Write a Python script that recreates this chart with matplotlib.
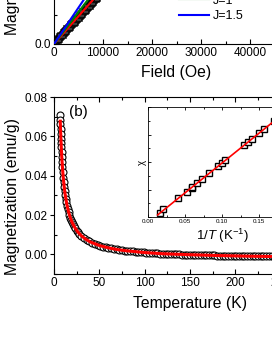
import numpy as np
import matplotlib
matplotlib.use('Agg')
import matplotlib.pyplot as plt
from matplotlib.ticker import MultipleLocator, FormatStrFormatter

plt.rcParams['font.family'] = ['Liberation Sans', 'DejaVu Sans']
plt.rcParams['mathtext.fontset'] = 'custom'
plt.rcParams['mathtext.rm'] = 'Liberation Sans'
plt.rcParams['mathtext.it'] = 'Liberation Sans:italic'

# panel (a): M(H) data and Brillouin fits
field = [0, 250, 500, 750, 1000, 1250, 1500, 1750, 2000, 2250, 2500, 2750, 3000,
         3250, 3500, 3750, 4000, 4250, 4500, 4750, 5000, 5250, 5500, 5750, 6000,
         6250, 6500, 6750, 7000, 7250, 7500, 7750, 8000, 8250, 8500, 8750, 9000,
         9250, 9500, 9750, 10000]
mag_h = [0, 0.0091, 0.0183, 0.0274, 0.0365, 0.0456, 0.0548, 0.0639, 0.0730, 0.0821,
         0.0913, 0.1004, 0.1095, 0.1186, 0.1278, 0.1369, 0.1460, 0.1551, 0.1643,
         0.1734, 0.1825, 0.1916, 0.2008, 0.2099, 0.2190, 0.2281, 0.2373, 0.2464,
         0.2555, 0.2646, 0.2738, 0.2829, 0.2920, 0.3011, 0.3103, 0.3194, 0.3285,
         0.3376, 0.3468, 0.3559, 0.3650]
fit_field = [0, 2500, 5000, 7500, 10000]
fit_j05 = [0, 0.0958, 0.1915, 0.287, 0.383]
fit_j1 = [0, 0.110, 0.2205, 0.331, 0.441]
fit_j15 = [0, 0.1255, 0.251, 0.3765, 0.502]

# panel (b): M(T)
temp = [6.7, 6.85, 7.0, 7.2, 7.4, 7.6, 7.8, 8.0, 8.3, 8.6, 8.9, 9.3, 9.7, 10.2,
        10.7, 11.2, 11.8, 12.4, 13.0, 13.7, 14.4, 15.2, 16, 17, 18, 19, 20, 21, 22,
        23.5, 25, 26.5, 28,
        30, 33, 36, 39, 42, 45, 48, 51, 54, 57, 60, 63, 66, 69, 72, 75, 78, 81, 84,
        87, 90, 93, 96, 99, 102, 105, 108, 111, 114, 117, 120, 123, 126, 129, 132,
        135, 138, 141, 144, 147, 150, 153, 156, 159, 162, 165, 168, 171, 174, 177,
        180, 183, 186, 189, 192, 195, 198, 201, 204, 207, 210, 213, 216, 219, 222,
        225, 228, 231, 234, 237, 240, 243, 246, 249, 252, 255, 258, 261, 264, 267,
        270, 273, 276, 279, 282, 285, 288, 291, 294, 297, 300]
mag_t = [0.0708, 0.0685, 0.0663, 0.0636, 0.0611, 0.0587, 0.0566, 0.0546, 0.0518,
         0.0493, 0.0470, 0.0442, 0.0418, 0.0390, 0.0366, 0.0344, 0.0321, 0.0301,
         0.0283, 0.0265, 0.0248, 0.0231, 0.0217, 0.0200, 0.0186, 0.0174, 0.0162,
         0.0153, 0.0144, 0.0132, 0.0121, 0.0112, 0.0105,
         0.00952, 0.00835, 0.00739, 0.00659, 0.00590, 0.00531, 0.00480, 0.00436,
         0.00396, 0.00361, 0.00329, 0.00300, 0.00275, 0.00251, 0.00229, 0.00210,
         0.00192, 0.00175, 0.00159, 0.00145, 0.00131, 0.00119, 0.00107, 0.00096,
         0.00085, 0.00076, 0.00066, 0.00058, 0.00049, 0.00042, 0.00034, 0.00027,
         0.00020, 0.00014, 0.00008, 0.00002, -0.00003, -0.00009, -0.00014, -0.00019,
         -0.00023, -0.00028, -0.00032, -0.00036, -0.00040, -0.00044, -0.00048,
         -0.00052, -0.00055, -0.00058, -0.00062, -0.00065, -0.00068, -0.00071,
         -0.00074, -0.00076, -0.00079, -0.00082, -0.00084, -0.00086, -0.00089,
         -0.00091, -0.00093, -0.00096, -0.00098, -0.00100, -0.00102, -0.00104,
         -0.00106, -0.00107, -0.00109, -0.00111, -0.00113, -0.00114, -0.00116,
         -0.00118, -0.00119, -0.00121, -0.00122, -0.00124, -0.00125, -0.00126,
         -0.00128, -0.00129, -0.00130, -0.00132, -0.00133, -0.00134, -0.00135,
         -0.00136, -0.00138]
fit_temp = [6.9, 7.3, 7.8, 8.5, 9.2, 10, 11, 12, 14, 16, 18, 20, 23, 26, 30, 35, 40,
            50, 60, 70, 80, 100, 120, 150, 180, 210, 240, 270, 300]
fit_mag = [0.0677, 0.0623, 0.0566, 0.0501, 0.0449, 0.0401, 0.0353, 0.0314, 0.0257,
           0.0217, 0.0186, 0.0162, 0.0136, 0.0115, 0.0095, 0.0077, 0.0063, 0.0045,
           0.0033, 0.0024, 0.0018, 0.0009, 0.0003, -0.0002, -0.0006, -0.0009,
           -0.0011, -0.0013, -0.0014]

# inset: chi vs 1/T
inv_t = [0.0162, 0.0203, 0.0405, 0.0527, 0.0595, 0.0600, 0.066, 0.073, 0.0824,
         0.0946, 0.100, 0.104, 0.130, 0.135, 0.1405, 0.150, 0.157, 0.17, 0.19]
chi = [0.145, 0.29, 0.69, 0.91, 1.05, 1.09, 1.24, 1.38, 1.60, 1.85, 1.96, 2.07,
       2.62, 2.73, 2.84, 3.05, 3.20, 3.48, 3.92]
fit_inv_t = [0.013, 0.20]
fit_chi = [0.075, 4.13]

W, H = 272, 352
fig = plt.figure(figsize=(W / 100, H / 100), dpi=100)


def box(left, top, width, height):
    return [left / W, (H - top - height) / H, width / W, height / H]


def style(ax):
    for s in ax.spines.values():
        s.set_linewidth(0.8)
    ax.tick_params(which='both', direction='in', top=True, right=True, labelsize=8.5, width=0.8)
    ax.tick_params(which='major', length=3.5, pad=2.5)
    ax.tick_params(which='minor', length=2)


# panel (a)
ax_a = fig.add_axes(box(54, 44 - 116, 245, 116))
ax_a.plot(field, mag_h, 's', ms=4.8, mfc='white', mec='black', mew=1.1, zorder=2)
ax_a.plot(fit_field, fit_j05, '-', color='red', lw=1.5, label='J=0.5', zorder=3)
ax_a.plot(fit_field, fit_j1, '-', color='green', lw=1.5, label='J=1', zorder=3)
ax_a.plot(fit_field, fit_j15, '-', color='blue', lw=1.5, label='J=1.5', zorder=3)
ax_a.set_xlim(0, 50000)
ax_a.set_ylim(0, 0.8)
ax_a.xaxis.set_major_locator(MultipleLocator(10000))
ax_a.xaxis.set_minor_locator(MultipleLocator(5000))
ax_a.yaxis.set_major_locator(MultipleLocator(0.4))
ax_a.yaxis.set_minor_locator(MultipleLocator(0.2))
ax_a.yaxis.set_major_formatter(FormatStrFormatter('%.1f'))
style(ax_a)
ax_a.set_xlabel('Field (Oe)', fontsize=11.3, labelpad=4)
ax_a.set_ylabel('Magnetization (emu/g)', fontsize=11.3)
ax_a.yaxis.set_label_coords(-0.139, 0.75)
ax_a.legend(loc='lower left', bbox_to_anchor=(0.51, 0.19), frameon=False, fontsize=9,
            borderpad=0, borderaxespad=0, handlelength=2.4, handletextpad=0.3,
            labelspacing=0.25)

# panel (b)
ax_b = fig.add_axes(box(54, 97, 272, 177))
ax_b.plot(temp, mag_t, 'o', ms=5.0, mfc='white', mec='black', mew=0.8, zorder=2)
ax_b.plot(fit_temp, fit_mag, '-', color='red', lw=2.2, zorder=3)
ax_b.set_xlim(0, 300)
ax_b.set_ylim(-0.01, 0.08)
ax_b.xaxis.set_major_locator(MultipleLocator(50))
ax_b.xaxis.set_minor_locator(MultipleLocator(25))
ax_b.yaxis.set_major_locator(MultipleLocator(0.02))
ax_b.yaxis.set_minor_locator(MultipleLocator(0.01))
ax_b.yaxis.set_major_formatter(FormatStrFormatter('%.2f'))
style(ax_b)
ax_b.tick_params(axis='y', which='major', direction='out', length=3, pad=1.5)
ax_b.set_xlabel('Temperature (K)', fontsize=11.3, labelpad=5)
ax_b.set_ylabel('Magnetization (emu/g)', fontsize=11.3)
ax_b.yaxis.set_label_coords(-0.125, 0.44)
ax_b.text(0.055, 0.915, '(b)', transform=ax_b.transAxes, fontsize=11, va='center')

# inset
ax_i = fig.add_axes(box(148, 107, 148, 110))
ax_i.plot(inv_t, chi, 's', ms=4.8, mfc='white', mec='black', mew=1.0, zorder=2)
ax_i.plot(fit_inv_t, fit_chi, '-', color='red', lw=1.2, zorder=3)
ax_i.set_xlim(0, 0.2)
ax_i.set_ylim(0, 4)
ax_i.xaxis.set_major_locator(MultipleLocator(0.05))
ax_i.xaxis.set_minor_locator(MultipleLocator(0.025))
ax_i.xaxis.set_major_formatter(FormatStrFormatter('%.2f'))
ax_i.yaxis.set_major_locator(MultipleLocator(1))
ax_i.yaxis.set_minor_locator(MultipleLocator(0.5))
for s in ax_i.spines.values():
    s.set_linewidth(0.6)
ax_i.tick_params(which='both', direction='in', top=True, right=True, width=0.6,
                 labelsize=4.5, labelleft=False, pad=1.5)
ax_i.tick_params(which='major', length=2.5)
ax_i.tick_params(which='minor', length=1.5)
ax_i.set_xlabel(r'$\mathit{1/T}$ (K$^{-1}$)', fontsize=9.5, labelpad=2)
ax_i.set_ylabel('χ', fontsize=7, labelpad=1)

fig.savefig('out.png', dpi=100)
